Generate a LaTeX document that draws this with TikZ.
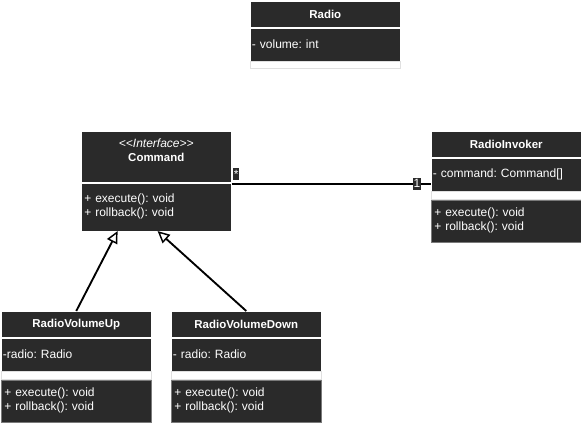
\documentclass[tikz,border=0pt]{standalone}
\usepackage{fontspec}
\setmainfont{Liberation Sans}
\usetikzlibrary{arrows.meta,positioning}
\definecolor{boxdark}{HTML}{2A2A2A}
\definecolor{boxedge}{HTML}{7A7A7A}
\frenchspacing
\tikzset{
	classhead/.style={draw=white, fill=boxdark, text=white, font=\fontsize{8.6}{9.5}\selectfont\bfseries, minimum width=112.5pt, minimum height=19.5pt, inner sep=0pt},
	classattr/.style={draw=white, fill=boxdark, text=white, text width=110pt, align=left, minimum height=24.75pt, inner xsep=1.25pt, inner ysep=0pt},
	classgap/.style={draw=black!12, fill=white, minimum width=112.5pt, minimum height=6pt, inner sep=0pt},
	classops/.style={draw=boxedge, fill=boxdark, text=white, text width=108pt, align=left, minimum height=31.5pt, inner xsep=2.25pt, inner ysep=0pt},
	inherit/.style={line width=1.4pt, -{Triangle[open, length=9pt, width=8.5pt, line width=1.1pt]}},
	assoc/.style={line width=1.8pt},
	mult/.style={fill=boxdark, text=white, font=\fontsize{9}{9}\selectfont, inner xsep=0.6pt, inner ysep=1.2pt}
}
\begin{document}
\begin{tikzpicture}[x=0.75pt, y=-0.75pt, font=\fontsize{9}{10.5}\selectfont]
	\useasboundingbox (0,0) rectangle (581,424);
	
	\node[classhead, anchor=north west] (radio) at (250,1) {Radio};
	\node[classattr, below=0pt of radio] (radioattr) {- volume: int};
	\node[classgap, below=0pt of radioattr, minimum height=5.25pt] (radiogap) {};
	
	\node[classhead, anchor=north west, minimum height=38.25pt] (cmd) at (81,131) {};
	\node[text=white, align=center, below=2pt of cmd.north] (cmdname) {\textit{<\kern0pt<Interface>\kern0pt>}\\\fontsize{8.6}{9.5}\selectfont\textbf{Command}};
	\node[classops, draw=white, minimum height=36pt, below=0pt of cmd] (cmdbody) {+ execute(): void\\+ rollback(): void};
	
	\node[classhead, anchor=north west] (invoker) at (431,131) {RadioInvoker};
	\node[classattr, below=0pt of invoker] (invattr) {- command: Command[]};
	\node[classgap, below=0pt of invattr] (invgap) {};
	\node[classops, below=0pt of invgap] (invops) {+ execute(): void\\+ rollback(): void};
	
	\node[classhead, anchor=north west] (up) at (1,311) {RadioVolumeUp};
	\node[classattr, below=0pt of up] (upattr) {-radio: Radio};
	\node[classgap, below=0pt of upattr] (upgap) {};
	\node[classops, below=0pt of upgap] (upops) {+ execute(): void\\+ rollback(): void};
	
	\node[classhead, anchor=north west] (down) at (171,311) {RadioVolumeDown};
	\node[classattr, below=0pt of down] (downattr) {- radio: Radio};
	\node[classgap, below=0pt of downattr] (downgap) {};
	\node[classops, below=0pt of downgap] (downops) {+ execute(): void\\+ rollback(): void};
	
	\draw[inherit] (up.north) -- ([xshift=-29pt]cmdbody.south);
	\draw[inherit] (down.north) -- ([xshift=1pt]cmdbody.south);
	\draw[assoc] ([yshift=-1pt]cmdbody.north east) -- ([yshift=-1pt]cmdbody.north east -| invattr.west);
	
	\node[mult, anchor=south west] (manylbl) at ([xshift=1pt, yshift=2pt]cmdbody.north east) {*};
	\node[mult] (onelbl) at ([xshift=-10.5pt, yshift=-1pt]cmdbody.north east -| invattr.west) {1};
\end{tikzpicture}
\end{document}
